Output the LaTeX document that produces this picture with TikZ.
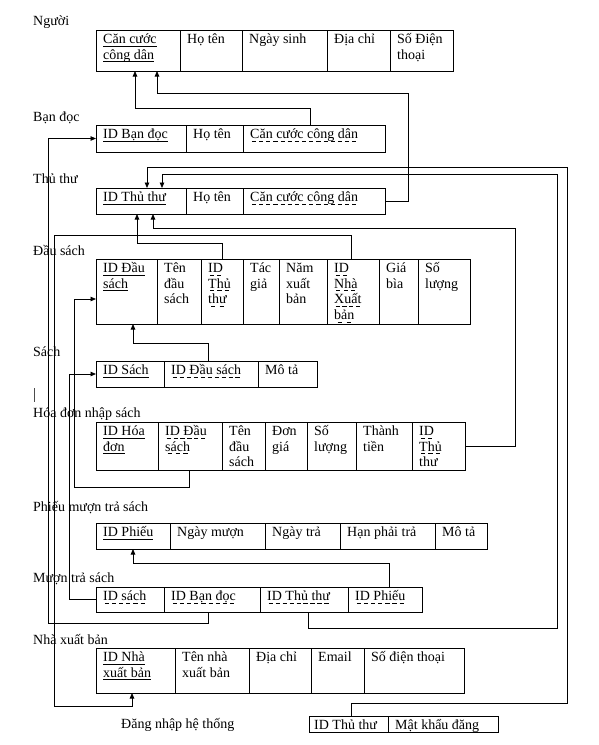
\documentclass[tikz,border=0pt]{standalone}
\usepackage{fontspec}
\setmainfont{Liberation Serif}
\usetikzlibrary{arrows.meta}
\newcommand\sul[1]{\leavevmode\setbox0\hbox{#1}\rlap{\vrule width \wd0 height -2pt depth 2.8pt}\box0}
\newcommand\dul[1]{\leavevmode\setbox0\hbox{#1}\rlap{\hbox to \wd0{\xleaders\hbox{\kern1.3pt\vrule width 4.2pt height -2pt depth 2.8pt\kern1.3pt}\hfil}}\box0}
\newcommand\cel[6]{%
  \node[cellbox,minimum width={(#3-#2)*1pt},minimum height={(#5-#4)*1pt}] (#1) at ({(#2+#3)/2},{(#4+#5)/2}) {};
  \node[celltext] (#1t) at ({#2+7},{#4+13.5}) {\begin{tabular}[t]{@{}l@{}}#6\end{tabular}};%
}
\begin{document}
\begin{tikzpicture}[x=1pt,y=-1pt,
  cellbox/.style={draw,line width=0.8pt,inner sep=0pt,outer sep=0pt},
  celltext/.style={anchor=base west,inner sep=0pt,font=\fontsize{14}{15.7}\selectfont},
  lbl/.style={anchor=base west,inner sep=0pt,font=\fontsize{14}{15.7}\selectfont},
  conn/.style={line width=0.8pt,-{Triangle[length=5.5pt,width=4.5pt]}}]
\useasboundingbox (0,0) rectangle (599,745);
\renewcommand\arraystretch{1}
% labels
\node[lbl] (l1) at (33,25) {Người};
\node[lbl] (l2) at (33,121) {Bạn đọc};
\node[lbl] (l3) at (33,183) {Thủ thư};
\node[lbl] (l4) at (33,255) {Đầu sách};
\node[lbl] (l5) at (33,356) {Sách};
\node[lbl] (l6) at (33,417) {Hóa đơn nhập sách};
\node[lbl] (l7) at (33,511) {Phiếu mượn trả sách};
\node[lbl] (l8) at (33,582) {Mượn trả sách};
\node[lbl] (l9) at (33,644) {Nhà xuất bản};
\node[lbl] (l10) at (121,728) {Đăng nhập hệ thống};
\draw[line width=0.6pt,black!70] (34,388) -- (34,402);
% Nguoi
\cel{ng1}{96}{180}{30}{71}{\sul{Căn cước}\\\sul{công dân}}
\cel{ng2}{180}{242}{30}{71}{Họ tên}
\cel{ng3}{242}{327}{30}{71}{Ngày sinh}
\cel{ng4}{327}{390}{30}{71}{Địa chỉ}
\cel{ng5}{390}{453}{30}{71}{Số Điện\\thoại}
% Ban doc
\cel{bd1}{96}{186}{125}{152}{\sul{ID Bạn đọc}}
\cel{bd2}{186}{243}{125}{152}{Họ tên}
\cel{bd3}{243}{385}{125}{152}{\dul{Căn cước công dân}}
% Thu thu
\cel{tt1}{96}{186}{188}{214}{\sul{ID Thủ thư}}
\cel{tt2}{186}{243}{188}{214}{Họ tên}
\cel{tt3}{243}{385}{188}{214}{\dul{Căn cước công dân}}
% Dau sach
\cel{ds1}{96}{157}{259}{324}{\sul{ID Đầu}\\\sul{sách}}
\cel{ds2}{157}{201}{259}{324}{Tên\\đầu\\sách}
\cel{ds3}{201}{243}{259}{324}{\dul{ID}\\\dul{Thủ}\\\dul{thư}}
\cel{ds4}{243}{279}{259}{324}{Tác\\giả}
\cel{ds5}{279}{327}{259}{324}{Năm\\xuất\\bản}
\cel{ds6}{327}{379}{259}{324}{\dul{ID}\\\dul{Nhà}\\\dul{Xuất}\\\dul{bản}}
\cel{ds7}{379}{418}{259}{324}{Giá\\bìa}
\cel{ds8}{418}{470}{259}{324}{Số\\lượng}
% Sach
\cel{sa1}{96}{164}{361}{387}{\sul{ID Sách}}
\cel{sa2}{164}{258}{361}{387}{\dul{ID Đầu sách}}
\cel{sa3}{258}{317}{361}{387}{Mô tả}
% Hoa don
\cel{hd1}{96}{158}{422}{470}{\sul{ID Hóa}\\\sul{đơn}}
\cel{hd2}{158}{222}{422}{470}{\dul{ID Đầu}\\\dul{sách}}
\cel{hd3}{222}{265}{422}{470}{Tên\\đầu\\sách}
\cel{hd4}{265}{307}{422}{470}{Đơn\\giá}
\cel{hd5}{307}{356}{422}{470}{Số\\lượng}
\cel{hd6}{356}{412}{422}{470}{Thành\\tiền}
\cel{hd7}{412}{465}{422}{470}{\dul{ID}\\\dul{Thủ}\\thư}
% Phieu
\cel{ph1}{96}{170}{523}{549}{\sul{ID Phiếu}}
\cel{ph2}{170}{265}{523}{549}{Ngày mượn}
\cel{ph3}{265}{340}{523}{549}{Ngày trả}
\cel{ph4}{340}{435}{523}{549}{Hạn phải trả}
\cel{ph5}{435}{487}{523}{549}{Mô tả}
% Muon tra
\cel{mt1}{96}{164}{587}{612}{\dul{ID sách}}
\cel{mt2}{164}{260}{587}{612}{\dul{ID Bạn đọc}}
\cel{mt3}{260}{348}{587}{612}{\dul{ID Thủ thư}}
\cel{mt4}{348}{422}{587}{612}{\dul{ID Phiếu}}
% NXB
\cel{nx1}{96}{175}{648}{693}{\sul{ID Nhà}\\\sul{xuất bản}}
\cel{nx2}{175}{249}{648}{693}{Tên nhà\\xuất bản}
\cel{nx3}{249}{311}{648}{693}{Địa chỉ}
\cel{nx4}{311}{364}{648}{693}{Email}
\cel{nx5}{364}{464}{648}{693}{Số điện thoại}
% Dang nhap
\node[cellbox,minimum width=79pt,minimum height=16pt] (dn1) at (348.5,724) {};
\node[cellbox,minimum width=110pt,minimum height=16pt] (dn2) at (443,724) {};
\node[celltext] (dn1t) at (314,729) {ID Thủ thư};
\node[celltext] (dn2t) at (395,729) {Mật khẩu đăng};
% connectors
\draw[conn] ([xshift=-4pt]bd3.north) |- (135,108) -- ([xshift=-3pt]ng1.south);
\draw[conn] (tt3.east) -- (408,201) |- (157,93) -- ([xshift=19pt]ng1.south);
\draw[conn] ([xshift=-4pt]mt2.south) |- (48,623) |- (bd1.west);
\draw[conn] ([xshift=2.5pt]dn1.north) |- (567,703) |- (147,167) -- ([xshift=6pt]tt1.north);
\draw[conn] ([xshift=4pt]mt3.south) |- (557,628) |- (162,174) -- ([xshift=21pt]tt1.north);
\draw[conn] (ds3.north) |- (137,243) -- ([xshift=-4pt]tt1.south);
\draw[conn] (hd7.east) -- (515,446) |- (153,228) -- ([xshift=12pt]tt1.south);
\draw[conn] ([xshift=-2pt]ds6.north) |- (54,235) |- (132,706) -- ([xshift=-3.5pt]nx1.south);
\draw[conn] ([xshift=-3pt]sa2.north) |- (133,343) -- ([xshift=6.5pt]ds1.south);
\draw[conn] ([xshift=-1pt]hd2.south) |- (74,487) |- ([yshift=-7.5pt]ds1.west);
\draw[conn] (mt1.west) -| (69,374) -- (sa1.west);
\draw[conn] ([xshift=4pt]mt4.north) |- (133,563) -- (ph1.south);
\end{tikzpicture}
\end{document}
